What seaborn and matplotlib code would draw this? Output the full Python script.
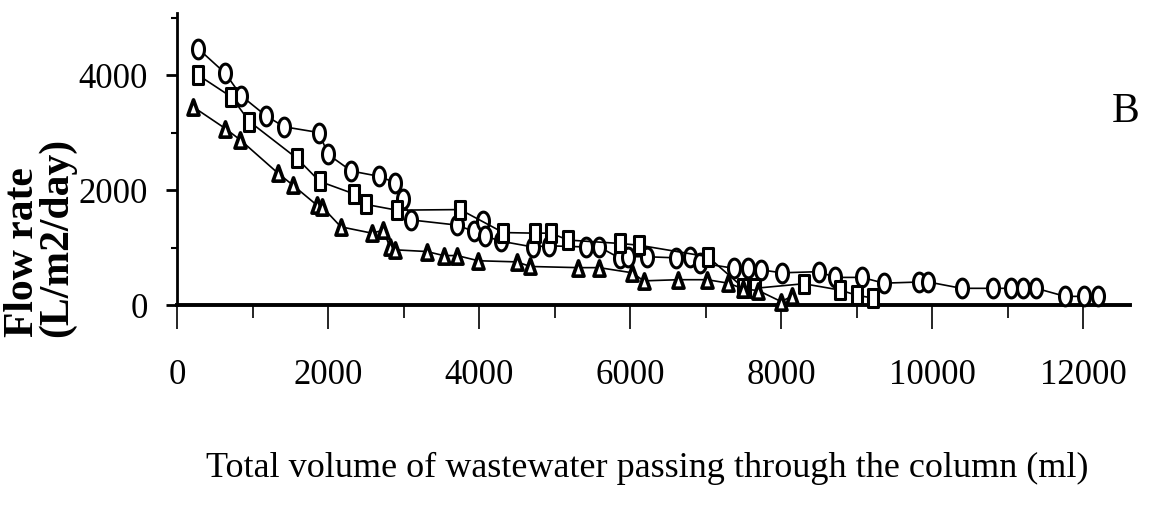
import numpy as np
import pandas as pd
import matplotlib
matplotlib.use("Agg")
import matplotlib.pyplot as plt
from matplotlib.path import Path
from matplotlib.ticker import MultipleLocator
import seaborn as sns

# Column B: flow rate vs cumulative volume, three columns
circle_x = [280, 640, 850, 1180, 1420, 1880, 2000, 2310, 2670, 2890, 2990, 3100,
            3710, 3930, 4050, 4080, 4290, 4710, 4920, 5410, 5590, 5870, 5970,
            6220, 6610, 6790, 6930, 7370, 7560, 7740, 8010, 8500, 8715, 9070,
            9360, 9830, 9950, 10390, 10810, 11050, 11200, 11380, 11760, 12010, 12200]
circle_y = [4460, 4030, 3640, 3290, 3100, 3000, 2620, 2330, 2240, 2130, 1850, 1480,
            1390, 1280, 1460, 1200, 1110, 1010, 1030, 1010, 1010, 810, 840,
            840, 820, 830, 730, 640, 640, 610, 560, 580, 480, 480,
            380, 400, 400, 290, 290, 290, 290, 290, 150, 150, 150]

square_x = [280, 720, 960, 1590, 1890, 2350, 2500, 2910, 3750, 4320, 4740, 4950,
            5180, 5870, 6120, 7030, 7500, 7650, 8300, 8780, 9000, 9220]
square_y = [4000, 3620, 3190, 2550, 2150, 1930, 1750, 1650, 1660, 1260, 1250, 1250,
            1130, 1070, 1040, 840, 300, 290, 370, 260, 170, 120]

triangle_x = [210, 640, 840, 1340, 1530, 1850, 1920, 2170, 2580, 2730, 2820, 2890,
              3310, 3530, 3710, 3990, 4500, 4680, 5310, 5590, 6030, 6180, 6640,
              7020, 7300, 7500, 7700, 8000, 8140]
triangle_y = [3450, 3070, 2870, 2290, 2090, 1740, 1710, 1360, 1250, 1300, 1010, 960,
              930, 860, 860, 770, 750, 670, 650, 650, 560, 420, 440,
              440, 380, 280, 250, 60, 150]

x_label = "Total volume of wastewater passing through the column (ml)"
y_label = "Flow rate\n(L/m2/day)"
panel_label = "B"

sns.set_style("white")
plt.rcParams["font.family"] = ["Liberation Serif", "DejaVu Serif"]
plt.rcParams["text.color"] = "black"
plt.rcParams["xtick.color"] = "black"
plt.rcParams["ytick.color"] = "black"
plt.rcParams["axes.labelcolor"] = "black"


def oval(w, h, n=60):
    t = np.linspace(0, 2 * np.pi, n)
    verts = np.column_stack([w * np.cos(t), h * np.sin(t)])
    return Path(verts, closed=True)


oval_marker = oval(0.32, 0.5)
rect_marker = Path([(-0.28, -0.5), (0.28, -0.5), (0.28, 0.5), (-0.28, 0.5), (-0.28, -0.5)],
                   closed=True)
tri_marker = Path([(-0.36, -0.5), (0.36, -0.5), (0.0, 0.5), (-0.36, -0.5)], closed=True)

series = [
    (circle_x, circle_y, oval_marker, 13.5, 2.2),
    (square_x, square_y, rect_marker, 13.5, 2.2),
    (triangle_x, triangle_y, tri_marker, 11.0, 2.6),
]

fig = plt.figure(figsize=(11.56, 5.15), dpi=100)
ax = fig.add_axes([177 / 1156, 1 - 305 / 515, (1130 - 177) / 1156, (305 - 13) / 515])

for xs, ys, mk, ms, mew in series:
    df = pd.DataFrame({"volume": xs, "flow": ys})
    sns.lineplot(data=df, x="volume", y="flow", ax=ax, estimator=None, sort=True,
                 color="black", linewidth=1.2, marker=mk, markersize=ms,
                 markerfacecolor="white", markeredgecolor="black",
                 markeredgewidth=mew, clip_on=False, zorder=3)

ax.set_xlim(0, 12620)
ax.set_ylim(0, 5080)

for side in ("top", "right"):
    ax.spines[side].set_visible(False)
ax.spines["bottom"].set_linewidth(2.8)
ax.spines["left"].set_linewidth(2.0)
ax.spines["bottom"].set_color("black")
ax.spines["left"].set_color("black")

ax.xaxis.set_major_locator(MultipleLocator(2000))
ax.xaxis.set_minor_locator(MultipleLocator(1000))
ax.yaxis.set_major_locator(MultipleLocator(2000))
ax.yaxis.set_minor_locator(MultipleLocator(1000))
ax.tick_params(axis="x", which="major", direction="out", length=17, width=1.2,
               pad=22, labelsize=25, labelcolor="black", color="black", bottom=True)
ax.tick_params(axis="x", which="minor", direction="out", length=9, width=1.2,
               color="black", bottom=True)
ax.tick_params(axis="y", which="major", direction="out", length=8, width=2.0,
               pad=13, labelsize=25, labelcolor="black", color="black", left=True)
ax.tick_params(axis="y", which="minor", direction="out", length=4, width=1.5,
               color="black", left=True)

ax.set_xlabel("")
ax.set_ylabel("")
fig.text(647 / 1156, 1 - 468 / 515, x_label, ha="center", va="center", fontsize=26,
         color="black")
fig.text(40 / 1156, 1 - 337 / 515, y_label, rotation=90, ha="center", va="bottom",
         multialignment="left", fontsize=30, fontweight="bold", linespacing=0.85,
         color="black")
fig.text(1126 / 1156, 1 - 112 / 515, panel_label, ha="center", va="center", fontsize=30,
         color="black")

fig.savefig("out.png", dpi=100, facecolor="white")
